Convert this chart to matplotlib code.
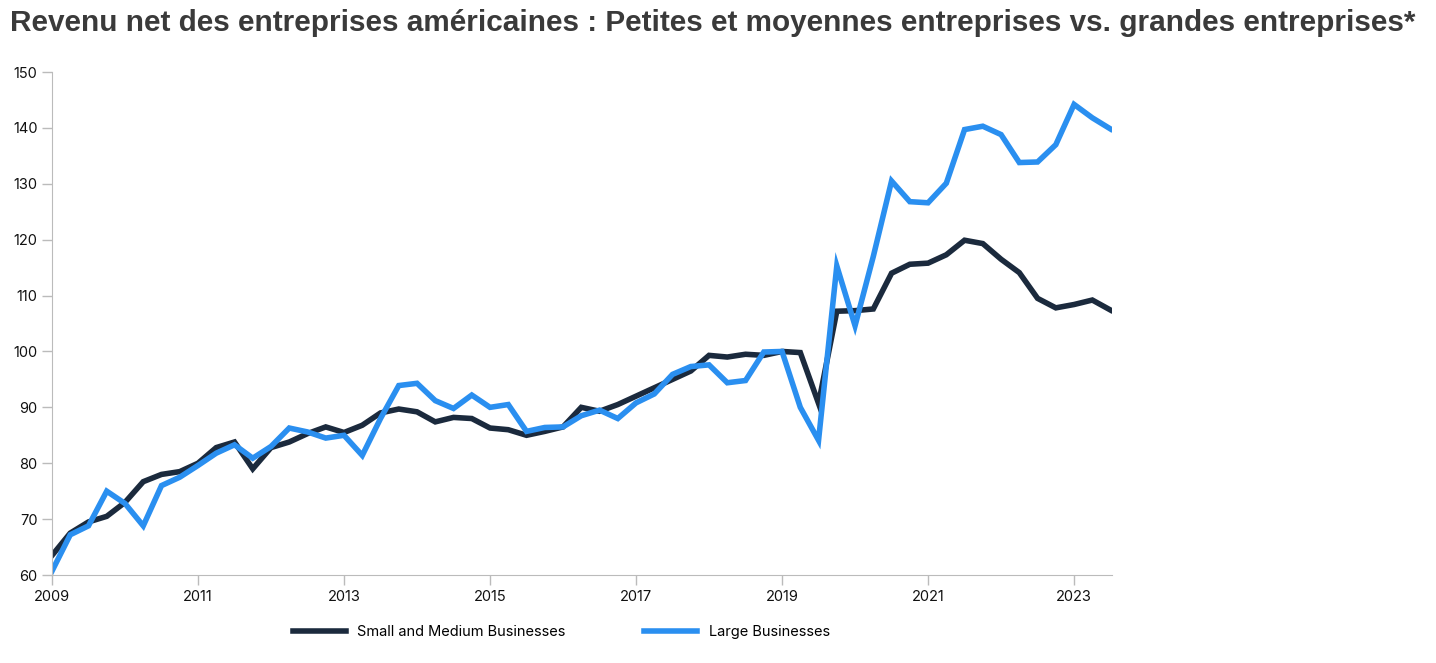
import matplotlib
matplotlib.use('Agg')
import matplotlib.pyplot as plt
import numpy as np

# quarterly index values, 2009 Q1 .. 2023 Q3
start_year = 2009
smb = [63.5, 67.5, 69.5, 70.5, 73.0, 76.7, 78.0, 78.5, 80.0, 82.8, 83.8, 79.0,
       82.8, 83.8, 85.3, 86.5, 85.5, 86.8, 89.0, 89.7, 89.2, 87.4, 88.2, 88.0,
       86.3, 86.0, 85.0, 85.7, 86.5, 90.0, 89.3, 90.5, 92.0, 93.5, 95.0, 96.5,
       99.3, 99.0, 99.5, 99.3, 100.0, 99.8, 90.7, 107.2, 107.3, 107.6, 114.0, 115.6,
       115.8, 117.3, 119.9, 119.3, 116.5, 114.1, 109.5, 107.8, 108.4, 109.2, 107.4]
large = [60.7, 67.2, 68.8, 75.0, 72.8, 68.8, 76.0, 77.5, 79.6, 81.8, 83.3, 80.9,
         83.0, 86.3, 85.6, 84.5, 85.0, 81.4, 88.0, 93.9, 94.3, 91.2, 89.8, 92.2,
         90.0, 90.5, 85.7, 86.4, 86.5, 88.5, 89.5, 88.0, 90.8, 92.4, 95.9, 97.3,
         97.6, 94.4, 94.8, 99.9, 100.0, 90.0, 84.1, 115.3, 104.6, 117.0, 130.5, 126.8,
         126.6, 130.1, 139.7, 140.3, 138.8, 133.8, 133.9, 137.0, 144.2, 141.8, 139.8]
labels = ['Small and Medium Businesses', 'Large Businesses']
colors = ['#1b2a3d', '#2a8ff0']

x = start_year + np.arange(len(smb)) / 4.0

fig = plt.figure(figsize=(14.36, 6.63), dpi=100)
ax = fig.add_axes([0.0362, 0.1327, 0.7382, 0.7587])

ax.plot(x, smb, color=colors[0], lw=4, label=labels[0], solid_joinstyle='miter')
ax.plot(x, large, color=colors[1], lw=4, label=labels[1], solid_joinstyle='miter')

ax.set_xlim(2009, 2023.52)
ax.set_ylim(60, 150)
ax.set_xticks(np.arange(2009, 2024, 2))
ax.set_yticks(np.arange(60, 151, 10))
ax.tick_params(labelsize=10.5, colors='#bbbbbb', labelcolor='#111111', length=7, width=1)
for lbl in ax.get_xticklabels() + ax.get_yticklabels():
    lbl.set_fontfamily('Inter')
for s in ['top', 'right']:
    ax.spines[s].set_visible(False)
for s in ['left', 'bottom']:
    ax.spines[s].set_color('#bbbbbb')

fig.text(0.007, 0.965, 'Revenu net des entreprises américaines : Petites et moyennes entreprises vs. grandes entreprises*',
         fontsize=21.4, fontweight='bold', color='#3a3a3a', family='Liberation Sans', va='center', ha='left')

fig.legend(loc='center', bbox_to_anchor=(0.391, 0.047), ncol=2, frameon=False,
           handlelength=3.6, columnspacing=5.4, prop={'family': 'Inter', 'size': 10.5})

fig.savefig('out.png', dpi=100)
